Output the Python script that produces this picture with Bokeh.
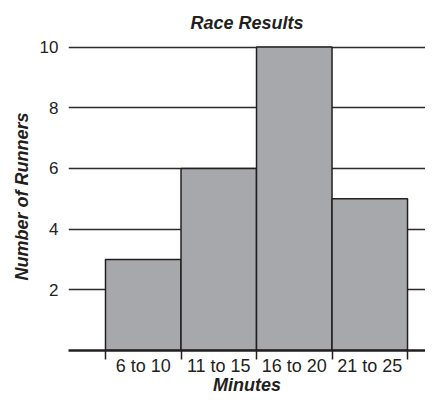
from bokeh.plotting import figure
from bokeh.models import Range1d, FixedTicker, ColumnDataSource
from bokeh.embed import file_html
from bokeh.resources import INLINE

# Data
categories = ["6 to 10", "11 to 15", "16 to 20", "21 to 25"]
runners = [3, 6, 10, 5]
y_ticks = [2, 4, 6, 8, 10]

idx = list(range(len(categories)))
src = ColumnDataSource(dict(
    left=[i for i in idx],
    right=[i + 1 for i in idx],
    top=runners,
    bottom=[0] * len(runners),
))

p = figure(width=425, height=397, output_backend="svg", toolbar_location=None,
           x_range=Range1d(-0.49, 4.238), y_range=Range1d(0, 10.15),
           min_border_left=68, min_border_right=0, min_border_top=42,
           min_border_bottom=36, title="Race Results")
p.outline_line_color = None
p.background_fill_color = "white"
p.border_fill_color = "white"

p.title.text_font = "Liberation Sans"
p.title.text_font_style = "bold italic"
p.title.text_font_size = "18px"
p.title.align = "center"
p.title.text_color = "#231f20"
p.title.standoff = 20

p.quad(left="left", right="right", top="top", bottom="bottom", source=src,
       fill_color="#a7a8ab", line_color="#231f20", line_width=1.5)

# Grid
p.xgrid.visible = False
p.ygrid.ticker = FixedTicker(ticks=y_ticks)
p.ygrid.grid_line_color = "#2b2b2b"
p.ygrid.grid_line_width = 1.5

# Y axis
p.yaxis.ticker = FixedTicker(ticks=y_ticks)
p.yaxis.axis_line_color = None
p.yaxis.major_tick_line_color = None
p.yaxis.minor_tick_line_color = None
p.yaxis.major_tick_out = 0
p.yaxis.major_tick_in = 0
p.yaxis.major_label_standoff = 10
p.yaxis.major_label_text_font = "Liberation Sans"
p.yaxis.major_label_text_font_size = "17px"
p.yaxis.major_label_text_color = "#231f20"
p.yaxis.axis_label = "Number of Runners"
p.yaxis.axis_label_text_font = "Liberation Sans"
p.yaxis.axis_label_text_font_style = "bold italic"
p.yaxis.axis_label_text_font_size = "18px"
p.yaxis.axis_label_text_color = "#231f20"
p.yaxis.axis_label_standoff = 5

# X axis
centers = [i + 0.5 for i in idx]
edges = [i for i in range(len(categories) + 1)]
p.xaxis.ticker = FixedTicker(ticks=centers, minor_ticks=edges)
p.xaxis.major_label_overrides = {c: lab for c, lab in zip(centers, categories)}
p.xaxis.axis_line_color = "#231f20"
p.xaxis.axis_line_width = 2.5
p.xaxis.major_tick_line_color = None
p.xaxis.major_tick_out = 0
p.xaxis.major_tick_in = 0
p.xaxis.minor_tick_line_color = "#231f20"
p.xaxis.minor_tick_line_width = 1.5
p.xaxis.minor_tick_out = 9
p.xaxis.minor_tick_in = 0
p.xaxis.major_label_standoff = -4
p.xaxis.major_label_text_font = "Liberation Sans"
p.xaxis.major_label_text_font_size = "18px"
p.xaxis.major_label_text_color = "#231f20"
p.xaxis.axis_label = "Minutes"
p.xaxis.axis_label_text_font = "Liberation Sans"
p.xaxis.axis_label_text_font_style = "bold italic"
p.xaxis.axis_label_text_font_size = "18px"
p.xaxis.axis_label_text_color = "#231f20"
p.xaxis.axis_label_standoff = -4

open("out.html", "w").write(file_html(p, INLINE))
